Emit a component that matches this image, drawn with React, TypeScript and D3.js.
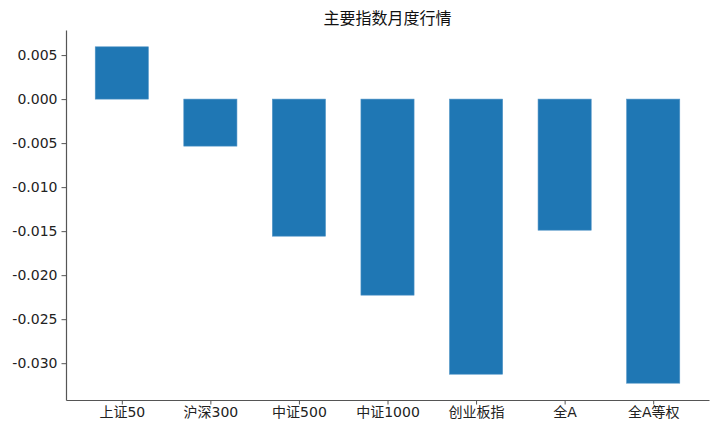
import { useRef, useEffect } from "react";
import * as d3 from "d3";

const categories = ["上证50", "沪深300", "中证500", "中证1000", "创业板指", "全A", "全A等权"];
const values = [0.00594, -0.00534, -0.01557, -0.02227, -0.03125, -0.01489, -0.03227];
const yTicks = [0.005, 0.0, -0.005, -0.01, -0.015, -0.02, -0.025, -0.03];
const title = "主要指数月度行情";

export default function App() {
  const svgRef = useRef<SVGSVGElement>(null);

  useEffect(() => {
    if (!svgRef.current) return;
    const width = 720;
    const height = 432;
    const margin = { top: 30, right: 11, bottom: 32, left: 66 };

    const svg = d3.select(svgRef.current);
    svg.selectAll("*").remove();

    const n = categories.length;
    const barW = 0.6;
    const pad = (n - 1 + barW) * 0.05;
    const x = d3
      .scaleLinear()
      .domain([-barW / 2 - pad, n - 1 + barW / 2 + pad])
      .range([margin.left, width - margin.right]);

    const lo = d3.min(values)!;
    const hi = d3.max(values)!;
    const m = (hi - lo) * 0.05;
    const y = d3
      .scaleLinear()
      .domain([lo - m, hi + m])
      .range([height - margin.bottom, margin.top]);

    const axisColor = "#555";
    const tickFont = "'DejaVu Sans', 'Noto Sans CJK SC', sans-serif";

    // bars
    svg
      .append("g")
      .selectAll("rect")
      .data(values)
      .join("rect")
      .attr("x", (_, i) => x(i - barW / 2))
      .attr("width", x(barW) - x(0))
      .attr("y", (d) => y(Math.max(0, d)))
      .attr("height", (d) => Math.abs(y(d) - y(0)))
      .attr("fill", "#1f77b4")
      .attr("stroke", "#4f93c6")
      .attr("stroke-width", 0.6);

    // y axis
    svg
      .append("g")
      .attr("transform", `translate(${margin.left},0)`)
      .call(
        d3
          .axisLeft(y)
          .tickValues(yTicks)
          .tickSizeInner(4.5)
          .tickSizeOuter(0)
          .tickPadding(4)
          .tickFormat((d) => d3.format(".3f")(Number(d)).replace("−", "-"))
      )
      .call((g) => g.select(".domain").attr("stroke", axisColor).attr("stroke-width", 1.2))
      .call((g) => g.selectAll(".tick line").attr("stroke", axisColor).attr("stroke-width", 1))
      .call((g) =>
        g
          .selectAll(".tick text")
          .attr("fill", "#222")
          .attr("font-size", 14)
          .attr("font-family", tickFont)
      );

    // x axis
    svg
      .append("g")
      .attr("transform", `translate(0,${height - margin.bottom})`)
      .call(
        d3
          .axisBottom(x)
          .tickValues(d3.range(n))
          .tickSizeInner(4.5)
          .tickSizeOuter(0)
          .tickPadding(3)
          .tickFormat((d) => categories[Number(d)])
      )
      .call((g) => g.select(".domain").attr("stroke", axisColor).attr("stroke-width", 1.2))
      .call((g) => g.selectAll(".tick line").attr("stroke", axisColor).attr("stroke-width", 1))
      .call((g) =>
        g
          .selectAll(".tick text")
          .attr("fill", "#222")
          .attr("font-size", 14)
          .attr("font-family", tickFont)
      );

    // title
    svg
      .append("text")
      .attr("x", (margin.left + width - margin.right) / 2)
      .attr("y", 24)
      .attr("text-anchor", "middle")
      .attr("font-size", 16)
      .attr("font-family", "'Noto Sans CJK SC', sans-serif")
      .attr("fill", "#111")
      .text(title);
  }, []);

  return (
    <div style={{ position: "absolute", left: 0, top: 0 }}>
      <svg ref={svgRef} width={720} height={432} style={{ display: "block", background: "#fff" }} />
    </div>
  );
}
